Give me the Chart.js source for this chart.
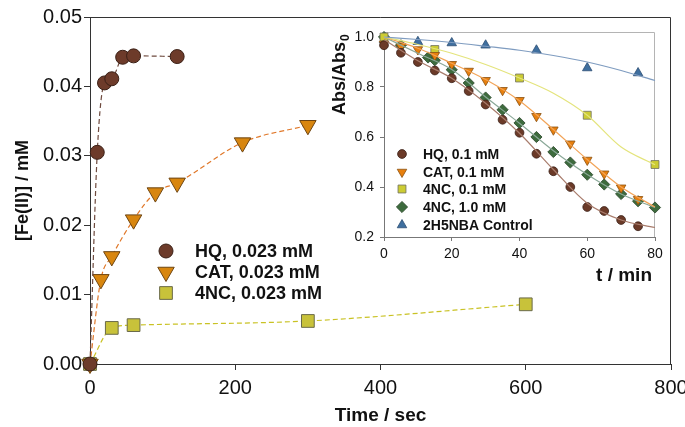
<!doctype html>
<html lang="en">
<head>
<meta charset="utf-8">
<title>Fe(II) formation and Abs/Abs0 decay</title>
<script src="https://cdn.jsdelivr.net/npm/chart.js@4.4.0/dist/chart.umd.min.js"></script>
<style>
  body { margin: 0; background: #fff; }
  #wrap { position: relative; width: 685px; height: 427px; }
  #main { position: absolute; left: 0; top: 0; }
  #inset { position: absolute; left: 325px; top: 19px; }
</style>
</head>
<body>
<div id="wrap">
  <canvas id="main" width="685" height="427"></canvas>
  <canvas id="inset" width="342" height="266"></canvas>
</div>
<script>
// ---- main plot: [Fe(II)] (mM) vs time (sec)
var hqTime  = [0, 10, 20, 30, 45, 60, 120];
var hqFe    = [0, 0.0305, 0.0405, 0.0411, 0.0442, 0.0444, 0.0443];
var catTime = [0, 15, 30, 60, 90, 120, 210, 300];
var catFe   = [0, 0.0122, 0.0155, 0.0208, 0.0247, 0.0261, 0.0319, 0.0344];
var ncTime  = [0, 30, 60, 300, 600];
var ncFe    = [0, 0.0052, 0.0056, 0.0062, 0.0086];
var mainLabels = ['HQ, 0.023 mM', 'CAT, 0.023 mM', '4NC, 0.023 mM'];

// ---- inset: Abs/Abs0 vs t (min)
var inTime   = [0, 5, 10, 15, 20, 25, 30, 35, 40, 45, 50, 55, 60, 65, 70, 75];
var hqAbs    = [0.967, 0.937, 0.900, 0.866, 0.835, 0.784, 0.730, 0.669, 0.617, 0.533, 0.463, 0.400, 0.320, 0.304, 0.268, 0.243];
var catAbs   = [0.972, 0.963, 0.950, 0.927, 0.891, 0.864, 0.827, 0.787, 0.747, 0.683, 0.629, 0.573, 0.508, 0.453, 0.397, 0.351];
var nc01Time = [0, 15, 40, 60, 80];
var nc01Abs  = [1.0, 0.95, 0.836, 0.687, 0.49];
var nc10Time = [0, 5, 13, 15, 20, 25, 30, 35, 40, 45, 50, 55, 60, 65, 70, 75, 80];
var nc10Abs  = [1.0, 0.967, 0.918, 0.907, 0.869, 0.816, 0.758, 0.709, 0.656, 0.600, 0.540, 0.498, 0.449, 0.410, 0.372, 0.343, 0.318];
var ctrlTime = [0, 10, 20, 30, 45, 60, 75];
var ctrlAbs  = [0.988, 0.981, 0.976, 0.967, 0.947, 0.876, 0.856];
var insetLabels = ['HQ, 0.1 mM', 'CAT, 0.1 mM', '4NC, 0.1 mM', '4NC, 1.0 mM', '2H5NBA Control'];

// fitted curves in the inset, every 10 min
var fitTime = [0, 10, 20, 30, 40, 50, 60, 70, 80];
var hqFit   = [0.99, 0.905, 0.835, 0.735, 0.615, 0.47, 0.335, 0.268, 0.238];
var catFit  = [1.0, 0.955, 0.895, 0.83, 0.745, 0.63, 0.51, 0.40, 0.32];
var nc01Fit = [1.0, 0.97, 0.935, 0.89, 0.836, 0.775, 0.687, 0.56, 0.489];
var nc10Fit = [1.0, 0.935, 0.87, 0.76, 0.655, 0.545, 0.45, 0.372, 0.318];
var ctrlFit = [1.0, 0.99, 0.978, 0.963, 0.947, 0.926, 0.90, 0.866, 0.826];

var FONT = "'Liberation Sans', Arial, Helvetica, sans-serif";
Chart.defaults.font.family = FONT;
Chart.defaults.color = '#111';

function pairs(xs, ys) {
  return xs.map(function (x, i) { return { x: x, y: ys[i] }; });
}

// draws a little key (marker + text) using the dataset's own point style
function drawKey(ctx, sets, mx, tx, ys, font) {
  sets.forEach(function (ds, i) {
    ctx.save();
    ctx.fillStyle = ds.pointBackgroundColor;
    ctx.strokeStyle = ds.pointBorderColor;
    ctx.lineWidth = ds.pointBorderWidth;
    Chart.helpers.drawPoint(ctx, {
      pointStyle: ds.pointStyle, radius: ds.pointRadius,
      rotation: ds.pointRotation || 0, borderWidth: ds.pointBorderWidth
    }, mx, ys[i]);
    ctx.fillStyle = '#111';
    ctx.font = font;
    ctx.textBaseline = 'middle';
    ctx.textAlign = 'left';
    ctx.fillText(ds.label, tx, ys[i] + 1);
    ctx.restore();
  });
}

var mainFrame = {
  id: 'mainFrame',
  beforeDatasetsDraw: function (chart) {
    var a = chart.chartArea, ctx = chart.ctx;
    ctx.save();
    ctx.strokeStyle = '#333';
    ctx.lineWidth = 1;
    ctx.beginPath();
    ctx.moveTo(a.left, a.top + 0.5);
    ctx.lineTo(a.right - 0.5, a.top + 0.5);
    ctx.lineTo(a.right - 0.5, a.bottom);
    ctx.stroke();
    ctx.restore();
  },
  afterDraw: function (chart) {
    var sets = chart.data.datasets;
    drawKey(chart.ctx, sets, 166, 195, [251, 272, 293], 'bold 18px ' + FONT);
  }
};

var insetFrame = {
  id: 'insetFrame',
  beforeDatasetsDraw: function (chart) {
    var a = chart.chartArea, ctx = chart.ctx;
    ctx.save();
    ctx.strokeStyle = '#b4b4b4';
    ctx.lineWidth = 1;
    ctx.beginPath();
    ctx.moveTo(a.left, a.top + 0.5);
    ctx.lineTo(a.right - 0.5, a.top + 0.5);
    ctx.lineTo(a.right - 0.5, a.bottom);
    ctx.stroke();
    ctx.restore();
  },
  afterDraw: function (chart) {
    var ctx = chart.ctx;
    var sets = chart.data.datasets.filter(function (d) { return d.label; });
    drawKey(ctx, sets, 77, 98, [135, 153, 170, 188, 206], 'bold 14px ' + FONT);

    // y title with subscript
    ctx.save();
    ctx.translate(19.5, 96);
    ctx.rotate(-Math.PI / 2);
    ctx.fillStyle = '#111';
    ctx.font = 'bold 18px ' + FONT;
    ctx.textBaseline = 'alphabetic';
    ctx.fillText('Abs/Abs', 0, 0);
    var w = ctx.measureText('Abs/Abs').width;
    ctx.font = 'bold 12px ' + FONT;
    ctx.fillText('0', w + 1, 4);
    ctx.restore();

    // x title, right aligned
    ctx.save();
    ctx.fillStyle = '#111';
    ctx.font = 'bold 19px ' + FONT;
    ctx.textAlign = 'right';
    ctx.textBaseline = 'middle';
    ctx.fillText('t / min', 327, 257);
    ctx.restore();
  }
};

// ---------- main chart
new Chart(document.getElementById('main'), {
  type: 'scatter',
  data: {
    datasets: [
      {
        label: mainLabels[0], data: pairs(hqTime, hqFe), showLine: true, clip: false,
        borderColor: '#6e4a3e', borderWidth: 1.2, borderDash: [5, 3], cubicInterpolationMode: 'monotone',
        pointStyle: 'circle', pointRadius: 7, pointBackgroundColor: '#6d3b2a',
        pointBorderColor: '#3a2016', pointBorderWidth: 1
      },
      {
        label: mainLabels[1], data: pairs(catTime, catFe), showLine: true, clip: false,
        borderColor: '#e0782a', borderWidth: 1.2, borderDash: [5, 3], cubicInterpolationMode: 'monotone',
        pointStyle: 'triangle', pointRotation: 180, pointRadius: 9.5, pointBackgroundColor: '#d8860f',
        pointBorderColor: '#6e4512', pointBorderWidth: 1
      },
      {
        label: mainLabels[2], data: pairs(ncTime, ncFe), showLine: true, clip: false,
        borderColor: '#c9c224', borderWidth: 1.2, borderDash: [5, 3], cubicInterpolationMode: 'monotone',
        pointStyle: 'rect', pointRadius: 9, pointBackgroundColor: '#c8c23a',
        pointBorderColor: '#6a6a4a', pointBorderWidth: 1
      }
    ]
  },
  options: {
    responsive: false, animation: false, devicePixelRatio: 1,
    layout: { padding: { top: 17, right: 14, left: 0, bottom: 0 } },
    plugins: { legend: { display: false }, tooltip: { enabled: false } },
    scales: {
      x: {
        type: 'linear', min: 0, max: 800,
        ticks: { stepSize: 200, font: { size: 20 }, color: '#111', padding: 6 },
        grid: { drawOnChartArea: false, tickLength: 6, color: '#333' },
        border: { color: '#333' },
        title: { display: true, text: 'Time / sec', font: { size: 19, weight: 'bold' }, color: '#111', padding: { top: 0, bottom: 0 } },
        afterFit: function (s) { s.height = 63; s.paddingLeft = 0; s.paddingRight = 0; }
      },
      y: {
        min: 0, max: 0.05,
        ticks: { stepSize: 0.01, font: { size: 20 }, color: '#111', padding: 2,
                 callback: function (v) { return v.toFixed(2); } },
        grid: { drawOnChartArea: false, tickLength: 6, color: '#333' },
        border: { color: '#333' },
        title: { display: true, text: '[Fe(II)] / mM', font: { size: 18, weight: 'bold' }, color: '#111', padding: { top: 12, bottom: 0 } },
        afterFit: function (s) { s.width = 90; s.paddingTop = 0; s.paddingBottom = 0; }
      }
    }
  },
  plugins: [mainFrame]
});

// ---------- inset chart
function fitLine(ys, color) {
  return {
    data: pairs(fitTime, ys), showLine: true, clip: false, pointRadius: 0,
    borderColor: color, borderWidth: 1.2, cubicInterpolationMode: 'monotone'
  };
}

new Chart(document.getElementById('inset'), {
  type: 'scatter',
  data: {
    datasets: [
      fitLine(ctrlFit, '#7f9cc0'),
      fitLine(nc01Fit, '#e4e47c'),
      fitLine(catFit, '#f2a458'),
      fitLine(nc10Fit, '#8aa898'),
      fitLine(hqFit, '#a87c6c'),
      {
        label: insetLabels[0], data: pairs(inTime, hqAbs), clip: false,
        pointStyle: 'circle', pointRadius: 4.4, pointBackgroundColor: '#6b3a28',
        pointBorderColor: '#3a2016', pointBorderWidth: 0.8
      },
      {
        label: insetLabels[1], data: pairs(inTime, catAbs), clip: false,
        pointStyle: 'triangle', pointRotation: 180, pointRadius: 5.5, pointBackgroundColor: '#e8800e',
        pointBorderColor: '#8a5010', pointBorderWidth: 0.8
      },
      {
        label: insetLabels[2], data: pairs(nc01Time, nc01Abs), clip: false,
        pointStyle: 'rect', pointRadius: 5.6, pointBackgroundColor: '#cccc33',
        pointBorderColor: '#707060', pointBorderWidth: 0.8
      },
      {
        label: insetLabels[3], data: pairs(nc10Time, nc10Abs), clip: false,
        pointStyle: 'rectRot', pointRadius: 5.6, pointBackgroundColor: '#3d6b3d',
        pointBorderColor: '#264326', pointBorderWidth: 0.8
      },
      {
        label: insetLabels[4], data: pairs(ctrlTime, ctrlAbs), clip: false,
        pointStyle: 'triangle', pointRadius: 5.5, pointBackgroundColor: '#3f6f9f',
        pointBorderColor: '#2c4e74', pointBorderWidth: 0.8
      }
    ]
  },
  options: {
    responsive: false, animation: false, devicePixelRatio: 1,
    layout: { padding: { top: 13, right: 12, left: 0, bottom: 0 } },
    plugins: { legend: { display: false }, tooltip: { enabled: false } },
    scales: {
      x: {
        type: 'linear', min: 0, max: 80,
        ticks: { stepSize: 20, font: { size: 14 }, color: '#111', padding: 5 },
        grid: { drawOnChartArea: false, tickLength: 4, color: '#777' },
        border: { color: '#777' },
        afterFit: function (s) { s.height = 48; s.paddingLeft = 0; s.paddingRight = 0; }
      },
      y: {
        min: 0.2, max: 1.02,
        ticks: { font: { size: 14 }, color: '#111', padding: 6,
                 callback: function (v) { return v.toFixed(1); } },
        afterBuildTicks: function (s) {
          s.ticks = [0.2, 0.4, 0.6, 0.8, 1.0].map(function (v) { return { value: v }; });
        },
        grid: { drawOnChartArea: false, tickLength: 4, color: '#777' },
        border: { color: '#777' },
        afterFit: function (s) { s.width = 59; s.paddingTop = 0; s.paddingBottom = 0; }
      }
    }
  },
  plugins: [insetFrame]
});
</script>
</body>
</html>
